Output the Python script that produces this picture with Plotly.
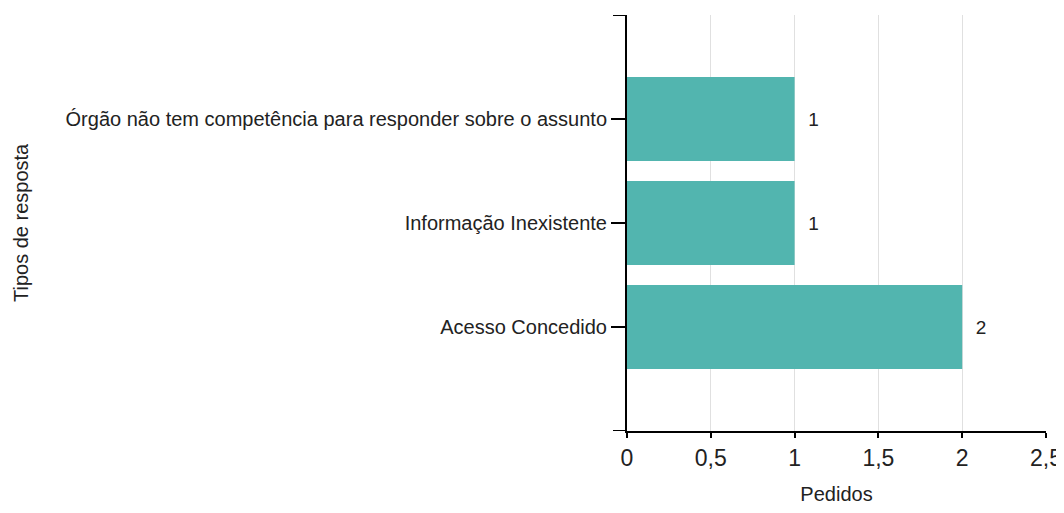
import plotly.graph_objects as go

tipos = ["Acesso Concedido", "Informação Inexistente",
         "Órgão não tem competência para responder sobre o assunto"]
pedidos = [2, 1, 1]

bar_color = "#52b5af"
font_color = "#222222"

# the page body keeps its default 8px margin, so the figure is a bit smaller
fig = go.Figure()
fig.add_trace(go.Bar(
    x=pedidos, y=tipos, orientation="h",
    marker=dict(color=bar_color, line=dict(width=0)),
    text=pedidos, texttemplate="  %{x}", textposition="outside",
    textfont=dict(size=19, color=font_color),
    cliponaxis=False, hoverinfo="x+y",
))

fig.update_layout(
    width=1056, height=497,
    margin=dict(l=619, r=18, t=7, b=74, autoexpand=False),
    paper_bgcolor="white", plot_bgcolor="white",
    font=dict(family="Liberation Sans, Arial", color=font_color, size=20),
    separators=", ",
    bargap=0.19,
    showlegend=False,
    xaxis=dict(
        range=[0, 2.5], dtick=0.5, tick0=0, automargin=False,
        showgrid=True, gridcolor="#e0e0e0", gridwidth=1,
        zeroline=False,
        showline=True, linecolor="black", linewidth=2,
        ticks="outside", ticklen=5, tickwidth=2, tickcolor="black",
        tickfont=dict(size=23), ticklabeloverflow="allow",
        title=dict(text="Pedidos", font=dict(size=20), standoff=18),
    ),
    yaxis=dict(
        type="category", categoryarray=tipos, range=[-1, 3], automargin=False,
        showgrid=False, zeroline=False,
        showline=True, linecolor="black", linewidth=2,
        ticks="outside", ticklen=14, tickwidth=2, tickcolor="black",
        tickfont=dict(size=20),
    ),
)

# end ticks of the category axis (top and bottom of the range)
for yv in [-1, 3]:
    fig.add_shape(type="line", xref="paper", yref="y",
                  x0=-14 / 419, x1=0, y0=yv, y1=yv,
                  line=dict(color="black", width=2))

# y axis title placed far left like the original
fig.add_annotation(
    text="Tipos de resposta", textangle=-90,
    xref="paper", yref="paper", x=0, y=0.5,
    xshift=-606, xanchor="center", yanchor="middle",
    showarrow=False, font=dict(size=20, color=font_color),
)

fig.write_html("out.html")
